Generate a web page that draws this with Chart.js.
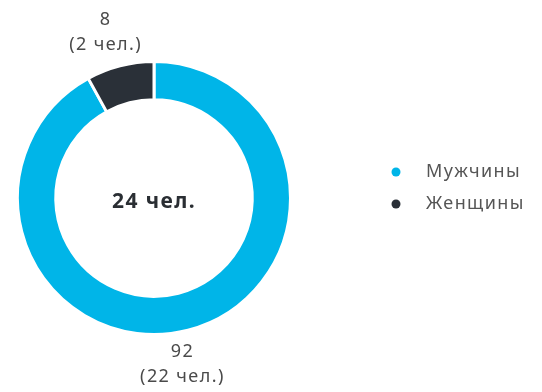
<!DOCTYPE html>
<html>
<head>
<meta charset="utf-8">
<script src="https://cdn.jsdelivr.net/npm/chart.js@4/dist/chart.umd.min.js"></script>
<style>
  html, body { margin: 0; padding: 0; background: #fff; }
  #wrap { width: 542px; height: 392px; position: relative; }
</style>
</head>
<body>
<div id="wrap"><canvas id="c" width="542" height="392"></canvas></div>
<script>
// Gender split of staff
const categories = ['Мужчины', 'Женщины'];
const percentValues = [92, 8];
const peopleCounts = [22, 2];
const totalLabel = '24 чел.';
const colors = ['#00B5E8', '#2A3038'];

const FONT = '"Noto Sans", "Open Sans", sans-serif';

// Percent + head-count labels placed outside each slice
const sliceLabels = {
  id: 'sliceLabels',
  afterDatasetsDraw(chart) {
    const ctx = chart.ctx;
    const meta = chart.getDatasetMeta(0);
    ctx.save();
    ctx.fillStyle = '#4a4a4a';
    ctx.font = '18px ' + FONT;
    ctx.letterSpacing = '1.4px';
    ctx.textAlign = 'center';
    ctx.textBaseline = 'middle';
    meta.data.forEach((arc, i) => {
      const p = arc.getProps(['x', 'y', 'startAngle', 'endAngle', 'outerRadius'], true);
      const mid = (p.startAngle + p.endAngle) / 2;
      const r = p.outerRadius + 35;
      const cx = p.x + Math.cos(mid) * r * 0.9 - 10;
      const cy = p.y + Math.sin(mid) * r;
      ctx.fillText(String(percentValues[i]), cx, cy - 12);
      ctx.fillText('(' + peopleCounts[i] + ' чел.)', cx, cy + 13);
    });
    ctx.restore();
  }
};

// Total in the hole of the doughnut
const centerText = {
  id: 'centerText',
  afterDatasetsDraw(chart) {
    const ctx = chart.ctx;
    const arc = chart.getDatasetMeta(0).data[0];
    ctx.save();
    ctx.fillStyle = '#2A2E33';
    ctx.font = 'bold 21px ' + FONT;
    ctx.letterSpacing = '1.4px';
    ctx.textAlign = 'center';
    ctx.textBaseline = 'middle';
    ctx.fillText(totalLabel, arc.x, arc.y + 4);
    ctx.restore();
  }
};

// Legend on the right side
const sideLegend = {
  id: 'sideLegend',
  afterDraw(chart) {
    const ctx = chart.ctx;
    ctx.save();
    ctx.font = '18px ' + FONT;
    ctx.letterSpacing = '1.4px';
    ctx.textBaseline = 'middle';
    categories.forEach((name, i) => {
      const y = 172 + i * 32;
      ctx.fillStyle = colors[i];
      ctx.beginPath();
      ctx.arc(396, y, 4.5, 0, Math.PI * 2);
      ctx.fill();
      ctx.fillStyle = '#555';
      ctx.fillText(name, 426, y);
    });
    ctx.restore();
  }
};

new Chart(document.getElementById('c'), {
  type: 'doughnut',
  data: {
    labels: categories,
    datasets: [{
      data: percentValues,
      backgroundColor: colors,
      borderColor: '#ffffff',
      borderWidth: 3
    }]
  },
  options: {
    responsive: false,
    animation: false,
    cutout: '72%',
    layout: { padding: { left: 16, right: 250, top: 60, bottom: 56 } },
    plugins: {
      legend: { display: false },
      tooltip: { enabled: false }
    }
  },
  plugins: [sliceLabels, centerText, sideLegend]
});
</script>
</body>
</html>
